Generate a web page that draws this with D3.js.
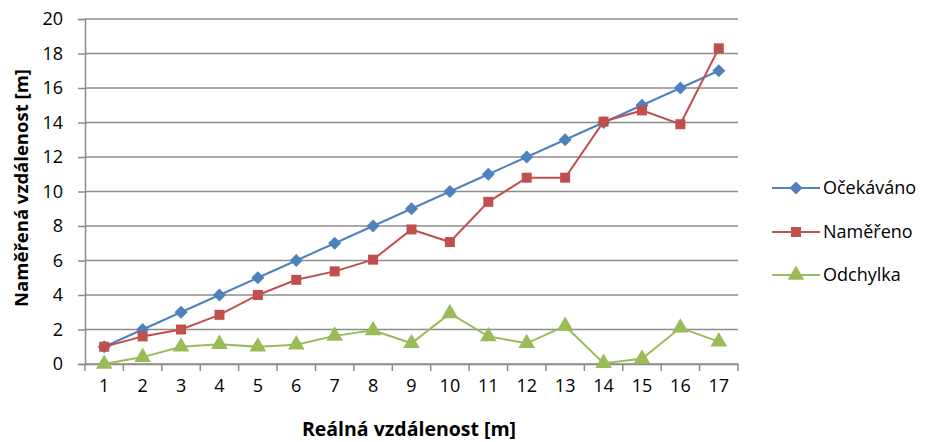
<!DOCTYPE html>
<html><head><meta charset="utf-8">
<script src="https://cdn.jsdelivr.net/npm/d3@7"></script>
<style>body{margin:0;background:#fff}svg{display:block}text{font-family:"Open Sans",sans-serif;fill:#000}</style>
</head><body><svg id="c" width="931" height="442"></svg>
<script>
const categories = ["1","2","3","4","5","6","7","8","9","10","11","12","13","14","15","16","17"];
const ocekavano = [1,2,3,4,5,6,7,8,9,10,11,12,13,14,15,16,17];
const namereno = [1,1.6,2,2.85,4,4.88,5.37,6.05,7.8,7.07,9.4,10.8,10.8,14.05,14.7,13.9,18.3];
const odchylka = [0,0.4,1,1.15,1,1.12,1.63,1.95,1.2,2.93,1.6,1.2,2.2,0.05,0.3,2.1,1.3];
const yTicks = [0,2,4,6,8,10,12,14,16,18,20];
const seriesNames = ["Očekáváno","Naměřeno","Odchylka"];
const colors = ["#4F81BD","#C0504D","#9BBB59"];
const symbols = [d3.symbolSquare, d3.symbolSquare, d3.symbolTriangle];
const rot = ["rotate(45)","",""];
const sizes = [85, 100, 120];

const svg = d3.select("#c");
const L=85, R=738, T=19, B=364;
const x = d3.scaleBand().domain(categories).range([L,R]);
const y = d3.scaleLinear().domain([0,20]).range([B,T]);
const FONT = "Open Sans";

// gridlines
svg.append("g").selectAll("line").data(yTicks).join("line")
  .attr("x1",L).attr("x2",R).attr("y1",d=>y(d)).attr("y2",d=>y(d))
  .attr("stroke","#8c8c8c").attr("stroke-width",1.5);

// y axis
const ya = svg.append("g").attr("transform",`translate(${L},0)`)
  .call(d3.axisLeft(y).tickValues(yTicks).tickSize(7).tickPadding(15));
ya.select(".domain").attr("stroke","#8c8c8c").attr("stroke-width",1.5);
ya.selectAll(".tick line").attr("stroke","#8c8c8c").attr("stroke-width",1.5);
ya.selectAll("text").attr("font-size",18).attr("font-family",FONT);

// x axis
const xa = svg.append("g").attr("transform",`translate(0,${B})`)
  .call(d3.axisBottom(x).tickSize(0).tickPadding(15));
xa.select(".domain").attr("stroke","#8c8c8c").attr("stroke-width",1.5);
xa.selectAll("text").attr("font-size",18).attr("font-family",FONT);
const bounds = categories.map(c=>x(c)).concat([x(categories[categories.length-1])+x.bandwidth()]);
svg.append("g").selectAll("line").data(bounds).join("line")
  .attr("x1",d=>d).attr("x2",d=>d).attr("y1",B).attr("y2",B+7)
  .attr("stroke","#8c8c8c").attr("stroke-width",1.5);

const cx = c => x(c)+x.bandwidth()/2;
const data = [ocekavano, namereno, odchylka];
data.forEach((vals,i)=>{
  const pts = categories.map((c,j)=>[cx(c), y(vals[j])]);
  svg.append("path").attr("d", d3.line()(pts)).attr("fill","none")
    .attr("stroke",colors[i]).attr("stroke-width",2);
  svg.append("g").selectAll("path").data(pts).join("path")
    .attr("d", d3.symbol().type(symbols[i]).size(sizes[i]))
    .attr("transform",d=>`translate(${d[0]},${d[1]}) ${rot[i]}`)
    .attr("fill",colors[i]);
});

// legend
const lg = svg.append("g");
const legY = [188,232,275];
seriesNames.forEach((n,i)=>{
  lg.append("line").attr("x1",772).attr("x2",820).attr("y1",legY[i]).attr("y2",legY[i])
    .attr("stroke",colors[i]).attr("stroke-width",2);
  lg.append("path").attr("d", d3.symbol().type(symbols[i]).size(sizes[i]))
    .attr("transform",`translate(796,${legY[i]}) ${rot[i]}`).attr("fill",colors[i]);
  lg.append("text").attr("x",823).attr("y",legY[i]).attr("dy","0.35em")
    .attr("font-size",18).text(n);
});

// titles
svg.append("text").attr("x",409).attr("y",429).attr("dy","0.35em")
  .attr("text-anchor","middle").attr("font-size",19.5).attr("font-weight","bold")
  .text("Reálná vzdálenost [m]");
svg.append("text").attr("transform","translate(22,188) rotate(-90)").attr("dy","0.35em")
  .attr("text-anchor","middle").attr("font-size",18.5).attr("font-weight","bold")
  .text("Naměřená vzdálenost [m]");
</script></body></html>
